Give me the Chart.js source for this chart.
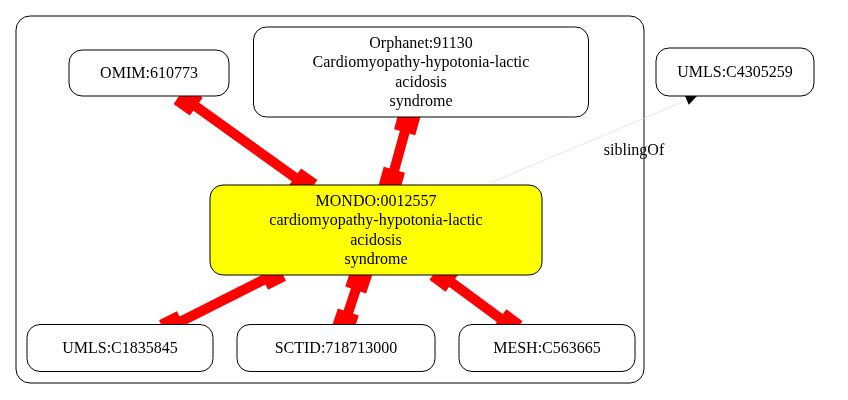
<!DOCTYPE html>
<html>
<head>
<meta charset="utf-8">
<script src="https://cdn.jsdelivr.net/npm/chart.js@4/dist/chart.umd.min.js"></script>
<style>
  html, body { margin: 0; padding: 0; background: #fff; }
  #c { display: block; }
</style>
</head>
<body>
<canvas id="c" width="848" height="400"></canvas>
<script>
// nodes of the graph
const nodeLabels = [
  ['OMIM:610773'],
  ['Orphanet:91130', 'Cardiomyopathy-hypotonia-lactic', 'acidosis', 'syndrome'],
  ['UMLS:C4305259'],
  ['MONDO:0012557', 'cardiomyopathy-hypotonia-lactic', 'acidosis', 'syndrome'],
  ['UMLS:C1835845'],
  ['SCTID:718713000'],
  ['MESH:C563665']
];
const nodeX = [149, 421, 735, 376, 120, 336, 547];
const nodeY = [73, 72, 72, 230, 348, 348, 348];
const nodeW = [160, 335, 158, 332, 186, 198, 176];
const nodeH = [46, 90, 48, 90, 47, 47, 47];
const nodeFill = ['#fff', '#fff', '#fff', '#ffff00', '#fff', '#fff', '#fff'];

// red equivalence edges: [x1, y1, x2, y2]
const redEdges = [
  [180, 95, 311, 189],
  [410, 113, 389, 189],
  [281, 271, 164, 330],
  [362, 271, 342, 331],
  [436, 271, 516, 330]
];
// siblingOf edge
const sibEdge = [490, 183, 697, 96];
const sibLabel = 'siblingOf';
const sibLabelPos = [634, 151];

const cluster = [16, 16, 644, 383];

function rrect(ctx, x, y, w, h, r) {
  ctx.beginPath();
  ctx.roundRect(x, y, w, h, r);
}

const graphPlugin = {
  id: 'graph',
  afterDatasetsDraw(chart) {
    const ctx = chart.ctx;
    const sx = v => chart.scales.x.getPixelForValue(v);
    const sy = v => chart.scales.y.getPixelForValue(v);
    ctx.save();

    // cluster
    ctx.strokeStyle = '#000'; ctx.lineWidth = 1;
    rrect(ctx, sx(cluster[0]), sy(cluster[1]), sx(cluster[2]) - sx(cluster[0]), sy(cluster[3]) - sy(cluster[1]), 14);
    ctx.stroke();

    // siblingOf edge
    const [a, b, c, d] = sibEdge;
    ctx.strokeStyle = '#ddd'; ctx.lineWidth = 0.7;
    ctx.beginPath(); ctx.moveTo(sx(a), sy(b)); ctx.lineTo(sx(c), sy(d)); ctx.stroke();
    const ang = Math.atan2(sy(d) - sy(b), sx(c) - sx(a));
    ctx.fillStyle = '#000';
    ctx.beginPath();
    ctx.moveTo(sx(c), sy(d));
    ctx.lineTo(sx(c) - 11 * Math.cos(ang) + 5 * Math.sin(ang), sy(d) - 11 * Math.sin(ang) - 5 * Math.cos(ang));
    ctx.lineTo(sx(c) - 11 * Math.cos(ang) - 5 * Math.sin(ang), sy(d) - 11 * Math.sin(ang) + 5 * Math.cos(ang));
    ctx.closePath(); ctx.fill();
    ctx.font = '16px "Liberation Serif"';
    ctx.textAlign = 'center'; ctx.textBaseline = 'middle';
    ctx.fillText(sibLabel, sx(sibLabelPos[0]), sy(sibLabelPos[1]));

    // red edges with box ends
    redEdges.forEach(([x1, y1, x2, y2]) => {
      const p1 = [sx(x1), sy(y1)], p2 = [sx(x2), sy(y2)];
      const t = Math.atan2(p2[1] - p1[1], p2[0] - p1[0]);
      ctx.strokeStyle = '#ff0000'; ctx.lineWidth = 10;
      ctx.beginPath(); ctx.moveTo(p1[0], p1[1]); ctx.lineTo(p2[0], p2[1]); ctx.stroke();
      ctx.fillStyle = '#ff0000';
      [[p1, 1], [p2, -1]].forEach(([p, dir]) => {
        ctx.save();
        ctx.translate(p[0], p[1]);
        ctx.rotate(t);
        ctx.fillRect(dir > 0 ? 0 : -20, -11, 20, 22);
        ctx.restore();
      });
    });

    // nodes
    nodeLabels.forEach((lines, i) => {
      const w = nodeW[i], h = nodeH[i];
      const x = sx(nodeX[i]) - w / 2, y = sy(nodeY[i]) - h / 2;
      ctx.fillStyle = nodeFill[i]; ctx.strokeStyle = '#000'; ctx.lineWidth = 1;
      rrect(ctx, x, y, w, h, 13);
      ctx.fill(); ctx.stroke();
      ctx.fillStyle = '#000';
      ctx.font = '16px "Liberation Serif"';
      const lh = 19.5;
      const y0 = sy(nodeY[i]) - (lines.length - 1) * lh / 2;
      lines.forEach((s, k) => ctx.fillText(s, sx(nodeX[i]), y0 + k * lh + 1));
    });
    ctx.restore();
  }
};

new Chart(document.getElementById('c'), {
  type: 'scatter',
  data: {
    datasets: [{
      data: nodeX.map((x, i) => ({ x, y: nodeY[i] })),
      pointRadius: 0
    }]
  },
  options: {
    responsive: false, animation: false,
    layout: { padding: 0 },
    plugins: { legend: { display: false }, tooltip: { enabled: false } },
    scales: {
      x: { type: 'linear', min: 0, max: 848, display: false },
      y: { type: 'linear', min: 0, max: 400, reverse: true, display: false }
    }
  },
  plugins: [graphPlugin]
});
</script>
</body>
</html>
